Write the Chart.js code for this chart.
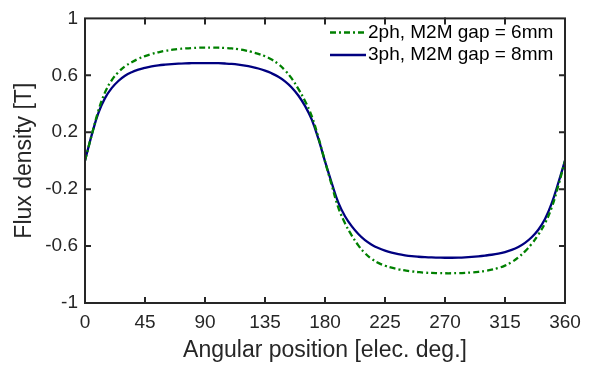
<!DOCTYPE html>
<html>
<head>
<meta charset="utf-8">
<script src="https://cdn.jsdelivr.net/npm/chart.js@4"></script>
<style>
html,body{margin:0;padding:0;background:#fff;}
#wrap{width:598px;height:368px;position:relative;}
</style>
</head>
<body>
<div id="wrap"><canvas id="c" width="598" height="368"></canvas></div>
<script>
const angles = [0,5,10,15,20,25,30,35,40,45,50,55,60,65,70,75,80,85,90,95,100,105,110,115,120,125,130,135,140,145,150,155,160,165,170,175,180,185,190,195,200,205,210,215,220,225,230,235,240,245,250,255,260,265,270,275,280,285,290,295,300,305,310,315,320,325,330,335,340,345,350,355,360];
const flux2ph = [0,0.18,0.35,0.48,0.565,0.622,0.663,0.692,0.716,0.735,0.75,0.762,0.772,0.779,0.785,0.789,0.792,0.794,0.795,0.795,0.794,0.792,0.789,0.783,0.775,0.764,0.751,0.734,0.711,0.679,0.635,0.578,0.505,0.42,0.315,0.165,-0.005,-0.17,-0.33,-0.44,-0.525,-0.595,-0.65,-0.69,-0.718,-0.738,-0.752,-0.763,-0.771,-0.778,-0.783,-0.787,-0.789,-0.79,-0.791,-0.791,-0.79,-0.788,-0.785,-0.781,-0.775,-0.766,-0.754,-0.737,-0.713,-0.68,-0.637,-0.585,-0.52,-0.44,-0.33,-0.175,0];
const flux3ph = [0,0.18,0.335,0.44,0.51,0.56,0.597,0.622,0.64,0.653,0.663,0.67,0.675,0.679,0.682,0.684,0.685,0.686,0.686,0.686,0.685,0.683,0.68,0.675,0.668,0.659,0.648,0.633,0.614,0.59,0.558,0.515,0.458,0.385,0.29,0.155,-0.005,-0.155,-0.295,-0.39,-0.46,-0.515,-0.558,-0.59,-0.614,-0.632,-0.646,-0.657,-0.665,-0.671,-0.675,-0.678,-0.68,-0.681,-0.682,-0.682,-0.681,-0.679,-0.676,-0.672,-0.667,-0.661,-0.653,-0.642,-0.627,-0.606,-0.577,-0.538,-0.485,-0.41,-0.3,-0.155,0];
const seriesLabels = ['2ph, M2M gap = 6mm','3ph, M2M gap = 8mm'];
const xTickValues = [0,45,90,135,180,225,270,315,360];
const yTickValues = [-1,-0.6,-0.2,0.2,0.6,1];
const yTickLabels = ['-1','-0.6','-0.2','0.2','0.6','1'];
const xTitle = 'Angular position [elec. deg.]';
const yTitle = 'Flux density [T]';

const FONT = "'Liberation Sans', Arial, Helvetica, sans-serif";
const AXC = '#262626';

const boxPlugin = {
  id: 'boxPlugin',
  afterDraw(chart) {
    const {ctx, chartArea: a, scales: {x, y}} = chart;
    ctx.save();
    ctx.strokeStyle = AXC;
    ctx.lineWidth = 2;
    ctx.lineCap = 'square';
    const tl = 5;
    ctx.beginPath();
    xTickValues.forEach(v => {
      const px = x.getPixelForValue(v);
      if (px > a.left + 1 && px < a.right - 1) {
        ctx.moveTo(px, a.bottom); ctx.lineTo(px, a.bottom - tl);
        ctx.moveTo(px, a.top); ctx.lineTo(px, a.top + tl);
      }
    });
    yTickValues.forEach(v => {
      const py = y.getPixelForValue(v);
      if (py > a.top + 1 && py < a.bottom - 1) {
        ctx.moveTo(a.left, py); ctx.lineTo(a.left + tl, py);
        ctx.moveTo(a.right, py); ctx.lineTo(a.right - tl, py);
      }
    });
    ctx.stroke();
    ctx.lineCap = 'butt';
    ctx.strokeRect(a.left, a.top, a.right - a.left, a.bottom - a.top);
    // legend
    ctx.font = '19px ' + FONT;
    ctx.textBaseline = 'middle';
    ctx.textAlign = 'left';
    const rows = [32.5, 55];
    chart.data.datasets.forEach((ds, i) => {
      const yy = rows[i];
      ctx.beginPath();
      ctx.strokeStyle = ds.borderColor;
      ctx.lineWidth = ds.borderWidth;
      ctx.setLineDash(ds.borderDash || []);
      ctx.moveTo(330, yy); ctx.lineTo(366, yy);
      ctx.stroke();
      ctx.setLineDash([]);
      ctx.fillStyle = '#000';
      ctx.fillText(ds.label, 368, yy);
    });
    ctx.restore();
  }
};

new Chart(document.getElementById('c'), {
  type: 'line',
  data: {
    datasets: [
      {
        label: seriesLabels[0],
        data: angles.map((a, i) => ({x: a, y: flux2ph[i]})),
        borderColor: '#008000',
        borderWidth: 2.3,
        borderDash: [6, 3, 2, 3],
        pointRadius: 0,
        fill: false,
        tension: 0.4
      },
      {
        label: seriesLabels[1],
        data: angles.map((a, i) => ({x: a, y: flux3ph[i]})),
        borderColor: '#000080',
        borderWidth: 2.3,
        pointRadius: 0,
        fill: false,
        tension: 0.4
      }
    ]
  },
  options: {
    responsive: false,
    animation: false,
    events: [],
    layout: {padding: {left: 0, right: 33, top: 11, bottom: 0}},
    plugins: {legend: {display: false}, tooltip: {enabled: false}},
    scales: {
      x: {
        type: 'linear', min: 0, max: 360,
        afterBuildTicks: s => { s.ticks = xTickValues.map(v => ({value: v})); },
        afterFit: s => { s.height = 65; },
        grid: {display: false, drawTicks: false},
        border: {display: false},
        ticks: {color: AXC, font: {family: FONT, size: 19}, padding: 8, maxRotation: 0, autoSkip: false,
          callback: v => String(v)},
        title: {display: true, text: xTitle, color: AXC, font: {family: FONT, size: 23}, padding: {top: 0, bottom: 4}}
      },
      y: {
        type: 'linear', min: -1, max: 1,
        afterBuildTicks: s => { s.ticks = yTickValues.map(v => ({value: v})); },
        afterFit: s => { s.width = 85; },
        grid: {display: false, drawTicks: false},
        border: {display: false},
        ticks: {color: AXC, font: {family: FONT, size: 19}, padding: 7, autoSkip: false,
          callback: v => { const i = yTickValues.indexOf(v); return i >= 0 ? yTickLabels[i] : ''; }},
        title: {display: true, text: yTitle, color: AXC, font: {family: FONT, size: 23}, padding: {top: 11, bottom: 0}}
      }
    }
  },
  plugins: [boxPlugin]
});
</script>
</body>
</html>
